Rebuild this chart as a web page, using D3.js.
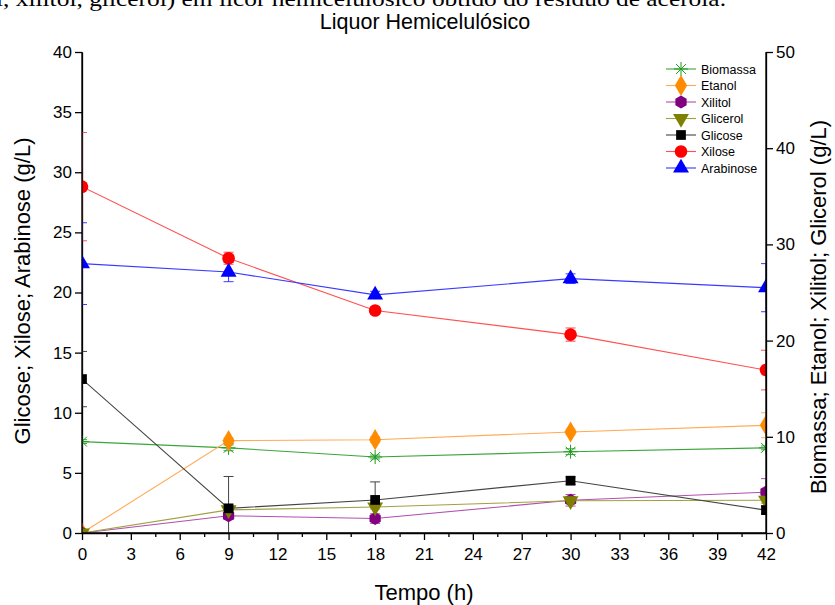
<!DOCTYPE html>
<html><head><meta charset="utf-8">
<script src="https://cdn.jsdelivr.net/npm/d3@7"></script>
<style>
body{margin:0;background:#fff;}
svg{display:block;font-family:"Liberation Sans",Arial,sans-serif;}
</style></head><body>
<svg id="c" width="835" height="605"></svg>
<script>
const times = [0, 9, 18, 30, 42];
const xTicks = [0,3,6,9,12,15,18,21,24,27,30,33,36,39,42];
const leftTicks = [0,5,10,15,20,25,30,35,40];
const rightTicks = [0,10,20,30,40,50];

// left axis series (g/L)
const glicose = [12.8, 2.05, 2.75, 4.35, 1.9];
const glicoseErr = [2.3, 2.65, 1.5, 0.3, 0.3];
const xilose = [28.8, 22.85, 18.5, 16.5, 13.55];
const xiloseErr = [4.5, 0.5, 0.3, 0.55, 1.65];
const arabinose = [22.4, 21.7, 19.8, 21.15, 20.4];
const arabinoseErr = [3.4, 0.8, 0.3, 0.4, 2.0];

// right axis series (g/L)
const biomassa = [9.5, 8.85, 7.9, 8.45, 8.85];
const biomassaErr = [0.2, 0.3, 0.2, 0.3, 0.2];
const etanol = [0, 9.6, 9.7, 10.5, 11.2];
const etanolErr = [0, 0.3, 0.3, 0.3, 1.3];
const xilitol = [0, 1.8, 1.5, 3.4, 4.25];
const xilitolErr = [0, 0.4, 0.5, 0.6, 1.4];
const glicerol = [0, 2.4, 2.7, 3.35, 3.4];
const glicerolErr = [0, 0.3, 0.2, 0.3, 0.3];

const svg = d3.select("#c");
const x = d3.scaleLinear().domain([0,42]).range([82,766]);
const yL = d3.scaleLinear().domain([0,40]).range([533,52]);
const yR = d3.scaleLinear().domain([0,50]).range([533,52]);

// clipped caption at the top
svg.append("text").attr("x",-4).attr("y",6)
  .attr("font-family","'Liberation Serif','Times New Roman',serif").attr("font-size",21)
  .attr("textLength",730).attr("lengthAdjust","spacingAndGlyphs")
  .text("l, xilitol, glicerol) em licor hemicelulósico obtido do resíduo de acerola.");

svg.append("text").attr("x",425).attr("y",29).attr("text-anchor","middle")
  .attr("font-size",21.5).text("Liquor Hemicelulósico");

// axes
const gx = svg.append("g").attr("transform","translate(0,533)")
  .call(d3.axisBottom(x).tickValues(xTicks).tickFormat(d3.format("d")).tickSize(7).tickSizeOuter(0));
svg.append("g").attr("transform","translate(0,533)")
  .call(d3.axisBottom(x).tickValues(d3.range(1.5,42,3)).tickFormat("").tickSize(4).tickSizeOuter(0))
  .select(".domain").remove();
const gl = svg.append("g").attr("transform","translate(82,0)")
  .call(d3.axisLeft(yL).tickValues(leftTicks).tickFormat(d3.format("d")).tickSize(7).tickSizeOuter(0));
const gr = svg.append("g").attr("transform","translate(766,0)")
  .call(d3.axisRight(yR).tickValues(rightTicks).tickFormat(d3.format("d")).tickSize(7).tickSizeOuter(0));
svg.selectAll(".tick text").attr("font-size",17).attr("fill","#000").attr("font-family","'Liberation Sans',Arial,sans-serif");
gx.selectAll(".tick text").attr("dy","1.0em");
svg.selectAll(".domain,.tick line").attr("stroke","#000").attr("stroke-width",1.3);

svg.append("text").attr("x",424).attr("y",600).attr("text-anchor","middle").attr("font-size",22).text("Tempo (h)");
svg.append("text").attr("transform","translate(30,291) rotate(-90)").attr("text-anchor","middle")
  .attr("font-size",22).text("Glicose; Xilose; Arabinose (g/L)");
svg.append("text").attr("transform","translate(826,307) rotate(-90)").attr("text-anchor","middle")
  .attr("font-size",22).text("Biomassa; Etanol; Xilitol; Glicerol (g/L)");

svg.append("defs").append("clipPath").attr("id","pa").append("rect")
  .attr("x",82).attr("y",40).attr("width",684).attr("height",493);

const series = [
  {name:"Biomassa", v:biomassa, e:biomassaErr, y:yR, color:"#1f9a1f", line:"#3aa53a", marker:"asterisk"},
  {name:"Etanol", v:etanol, e:etanolErr, y:yR, color:"#ff8c00", line:"#ffab55", marker:"diamond"},
  {name:"Xilitol", v:xilitol, e:xilitolErr, y:yR, color:"#800080", line:"#b050b0", marker:"hexagon"},
  {name:"Glicerol", v:glicerol, e:glicerolErr, y:yR, color:"#808000", line:"#a0a040", marker:"triangleDown"},
  {name:"Glicose", v:glicose, e:glicoseErr, y:yL, color:"#000000", line:"#444444", marker:"square"},
  {name:"Xilose", v:xilose, e:xiloseErr, y:yL, color:"#ff0000", line:"#ff5050", marker:"circle"},
  {name:"Arabinose", v:arabinose, e:arabinoseErr, y:yL, color:"#0000ff", line:"#3a3aff", marker:"triangle"}
];

function drawMarker(g, type, color, cx, cy){
  if(type==="asterisk"){
    const r=7;
    [0,45,90,135].forEach(a=>{
      const rad=a*Math.PI/180;
      g.append("line").attr("x1",cx-r*Math.cos(rad)).attr("y1",cy-r*Math.sin(rad))
       .attr("x2",cx+r*Math.cos(rad)).attr("y2",cy+r*Math.sin(rad))
       .attr("stroke",color).attr("stroke-width",1);
    });
    return;
  }
  const map = {diamond:[d3.symbolDiamond,130], square:[d3.symbolSquare,95], circle:[d3.symbolCircle,125],
               triangle:[d3.symbolTriangle,110], triangleDown:[d3.symbolTriangle,110]};
  if(type==="hexagon"){
    const r=6.5, pts=d3.range(6).map(i=>{const a=Math.PI/6+i*Math.PI/3; return [cx+r*Math.cos(a), cy+r*Math.sin(a)];});
    g.append("polygon").attr("points",pts.map(p=>p.join(",")).join(" ")).attr("fill",color);
    return;
  }
  const [sym,size]=map[type];
  g.append("path").attr("d",d3.symbol().type(sym).size(size)())
   .attr("transform",`translate(${cx},${cy})`+(type==="triangleDown"?" rotate(180)":""))
   .attr("fill",color);
}

const plot = svg.append("g").attr("clip-path","url(#pa)");
series.forEach(s=>{
  const g = plot.append("g");
  const line = d3.line().x((d,i)=>x(times[i])).y(d=>s.y(d));
  g.append("path").datum(s.v).attr("d",line).attr("fill","none").attr("stroke",s.line).attr("stroke-width",1.1);
  s.v.forEach((v,i)=>{
    if(s.e[i]>0){
      const cx=x(times[i]), y1=s.y(v+s.e[i]), y2=s.y(v-s.e[i]);
      g.append("line").attr("x1",cx).attr("x2",cx).attr("y1",y1).attr("y2",y2).attr("stroke",s.line).attr("stroke-width",1);
      [y1,y2].forEach(yy=>g.append("line").attr("x1",cx-5).attr("x2",cx+5).attr("y1",yy).attr("y2",yy).attr("stroke",s.line).attr("stroke-width",1));
    }
  });
});
series.forEach(s=>{
  const g = plot.append("g");
  s.v.forEach((v,i)=>drawMarker(g, s.marker, s.color, x(times[i]), s.y(v)));
});
// redraw axis lines on top of clipped marks
svg.append("line").attr("x1",82).attr("x2",82).attr("y1",52).attr("y2",533).attr("stroke","#000").attr("stroke-width",1.3);
svg.append("line").attr("x1",766).attr("x2",766).attr("y1",52).attr("y2",533).attr("stroke","#000").attr("stroke-width",1.3);
svg.append("line").attr("x1",82).attr("x2",766).attr("y1",533).attr("y2",533).attr("stroke","#000").attr("stroke-width",1.3);

// legend
const lg = svg.append("g");
series.forEach((s,i)=>{
  const yy = 69 + i*16.5;
  lg.append("line").attr("x1",666).attr("x2",696).attr("y1",yy).attr("y2",yy).attr("stroke",s.line).attr("stroke-width",1.1);
  drawMarker(lg, s.marker, s.color, 681, yy);
  lg.append("text").attr("x",701).attr("y",yy+4.5).attr("font-size",12.5).text(s.name);
});
</script></body></html>
